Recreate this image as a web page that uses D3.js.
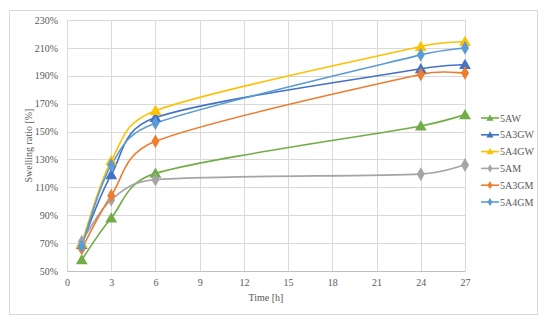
<!DOCTYPE html>
<html>
<head>
<meta charset="utf-8">
<script src="https://cdn.jsdelivr.net/npm/d3@7"></script>
<style>
  body { margin: 0; background: #fff; }
  svg text { font-family: "Liberation Serif", "DejaVu Serif", serif; fill: #595959; }
</style>
</head>
<body>
<div id="chart"></div>
<script>
// donnees
const hours = [1, 3, 6, 24, 27];
const seriesNames = ["5AW", "5A3GW", "5A4GW", "5AM", "5A3GM", "5A4GM"];
const v5AW   = [58, 88, 120, 154, 162];
const v5A3GW = [69, 119, 160, 195, 198];
const v5A4GW = [70, 129, 165, 211, 214.5];
const v5AM   = [71, 101, 115.5, 119.5, 126];
const v5A3GM = [66, 104, 143, 191, 192];
const v5A4GM = [68, 126, 156, 205, 210];
const xTicks = [0, 3, 6, 9, 12, 15, 18, 21, 24, 27];
const yTicks = [50, 70, 90, 110, 130, 150, 170, 190, 210, 230];

const colors = ["#70AD47", "#4472C4", "#FFC000", "#A5A5A5", "#ED7D31", "#5B9BD5"];
const shapes = ["tri", "tri", "tri", "dia", "dia", "dia"];
const allValues = [v5AW, v5A3GW, v5A4GW, v5AM, v5A3GM, v5A4GM];

const width = 550, height = 322;
const svg = d3.select("#chart").append("svg")
  .attr("width", width).attr("height", height);

// cadre exterieur
svg.append("rect")
  .attr("x", 9.5).attr("y", 10.5)
  .attr("width", 528).attr("height", 304)
  .attr("fill", "#fff").attr("stroke", "#d9d9d9");

const x = d3.scaleLinear().domain([0, 27]).range([67, 465]);
const y = d3.scaleLinear().domain([50, 230]).range([271, 20]);

// grille
svg.append("g").selectAll("line").data(yTicks).join("line")
  .attr("x1", x(0)).attr("x2", x(27))
  .attr("y1", d => Math.round(y(d)) + 0.5).attr("y2", d => Math.round(y(d)) + 0.5)
  .attr("stroke", "#d9d9d9");
svg.append("g").selectAll("line").data(xTicks).join("line")
  .attr("y1", y(50)).attr("y2", y(230))
  .attr("x1", d => Math.round(x(d)) + 0.5).attr("x2", d => Math.round(x(d)) + 0.5)
  .attr("stroke", "#d9d9d9");

// axes
const xAxis = svg.append("g")
  .attr("transform", "translate(0," + y(50) + ")")
  .call(d3.axisBottom(x).tickValues(xTicks).tickSize(0).tickPadding(8));
xAxis.select(".domain").attr("stroke", "#bfbfbf");
xAxis.selectAll("text").style("font-size", "10px").attr("fill", "#595959");

const yAxis = svg.append("g")
  .attr("transform", "translate(" + x(0) + ",0)")
  .call(d3.axisLeft(y).tickValues(yTicks).tickSize(0).tickPadding(9).tickFormat(d => d + "%"));
yAxis.select(".domain").remove();
yAxis.selectAll("text").style("font-size", "10px").attr("fill", "#595959");

svg.append("text")
  .attr("x", x(13.5)).attr("y", 301)
  .attr("text-anchor", "middle")
  .style("font-size", "10px")
  .text("Time [h]");

svg.append("text")
  .attr("transform", "translate(32," + y(140) + ") rotate(-90)")
  .attr("text-anchor", "middle")
  .style("font-size", "10px")
  .text("Swelling ratio [%]");

// lissage facon Excel : bezier, poignees (P2-P0)/6 limitees a la moitie du segment
function smoothPath(vals) {
  const p = vals.map((v, i) => [x(hours[i]), y(v)]);
  const n = p.length;
  const dist = (a, b) => Math.hypot(b[0] - a[0], b[1] - a[1]);
  const path = d3.path();
  path.moveTo(p[0][0], p[0][1]);
  for (let i = 0; i < n - 1; i++) {
    const p0 = p[Math.max(i - 1, 0)], p1 = p[i], p2 = p[i + 1], p3 = p[Math.min(i + 2, n - 1)];
    const d12 = dist(p1, p2), d02 = dist(p0, p2), d13 = dist(p1, p3);
    const f1 = d02 / 6 < d12 / 2 ? 1 / 6 : d12 / (2 * d02);
    const f2 = d13 / 6 < d12 / 2 ? 1 / 6 : d12 / (2 * d13);
    path.bezierCurveTo(
      p1[0] + (p2[0] - p0[0]) * f1, p1[1] + (p2[1] - p0[1]) * f1,
      p2[0] - (p3[0] - p1[0]) * f2, p2[1] - (p3[1] - p1[1]) * f2,
      p2[0], p2[1]);
  }
  return path.toString();
}

const triangle = d3.symbol().type(d3.symbolTriangle).size(60);
const diamond = d3.symbol().type(d3.symbolDiamond).size(55);

allValues.forEach(function (vals, k) {
  svg.append("path")
    .attr("d", smoothPath(vals))
    .attr("fill", "none")
    .attr("stroke", colors[k])
    .attr("stroke-width", 1.6);
});
allValues.forEach(function (vals, k) {
  svg.append("g").selectAll("path").data(vals).join("path")
    .attr("transform", (d, i) => "translate(" + x(hours[i]) + "," + (y(d) + (shapes[k] == "tri" ? 1 : 0)) + ")")
    .attr("d", shapes[k] == "tri" ? triangle() : diamond())
    .attr("fill", colors[k]);
});

// legende
const legend = svg.append("g");
const ly = d3.scaleLinear().domain([0, 5]).range([118, 202]);
seriesNames.forEach(function (name, k) {
  const g = legend.append("g").attr("transform", "translate(481," + ly(k) + ")");
  g.append("line").attr("x1", 0).attr("x2", 18).attr("stroke", colors[k]).attr("stroke-width", 1.6);
  g.append("path")
    .attr("transform", "translate(9," + (shapes[k] == "tri" ? 0.6 : 0) + ")")
    .attr("d", shapes[k] == "tri" ? d3.symbol().type(d3.symbolTriangle).size(22)() : d3.symbol().type(d3.symbolDiamond).size(20)())
    .attr("fill", colors[k]);
  g.append("text").attr("x", 19).attr("y", 3.5)
    .style("font-size", "10px")
    .text(name);
});
</script>
</body>
</html>
